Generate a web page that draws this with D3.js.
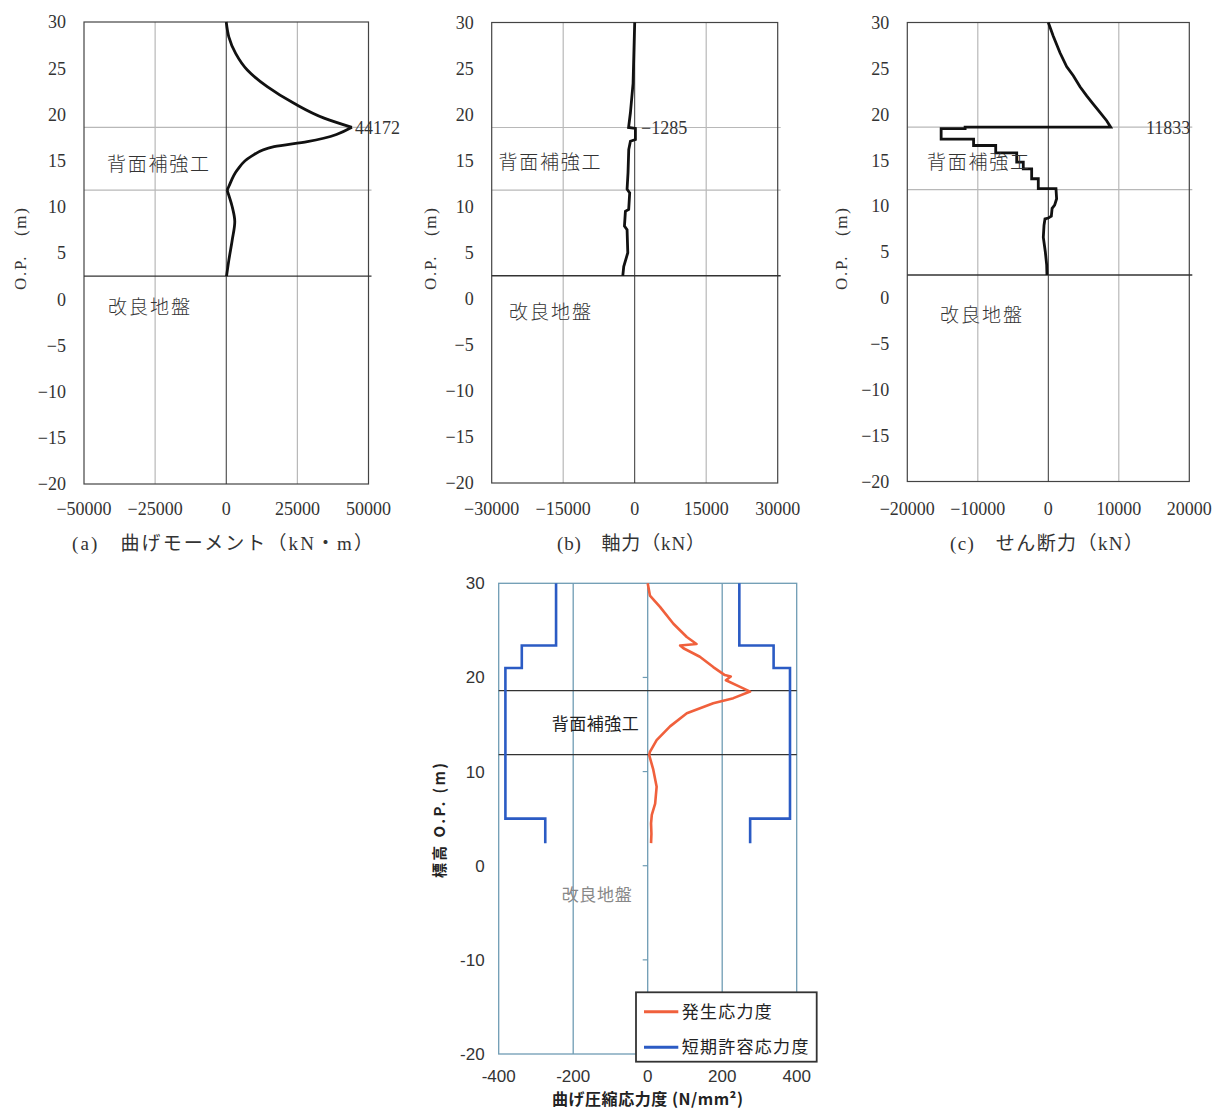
<!DOCTYPE html>
<html><head><meta charset="utf-8">
<script src="https://cdn.jsdelivr.net/npm/d3@7"></script>
<style>body{margin:0;background:#fff}svg{display:block}</style>
</head><body>
<svg id="c" width="1218" height="1111"></svg>
<script>
// ---------- data ----------
const elevTicks = [30,25,20,15,10,5,0,-5,-10,-15,-20];
const momentTicks = [-50000,-25000,0,25000,50000];
const axialTicks = [-30000,-15000,0,15000,30000];
const shearTicks = [-20000,-10000,0,10000,20000];
const stressTicks = [-400,-200,0,200,400];
const stressElevTicks = [30,20,10,0,-10,-20];

const reinfTop = 18.6, reinfBottom = 11.8, groundTop = 2.5;

const momentValue = [0,900,3300,7400,14400,23800,34400,44172,28500,16800,8500,3900,900,300,2100,3000,2100,900,100];
const momentElev  = [30,28.4,26.6,24.8,23.0,21.2,19.6,18.6,17.05,16.5,15.4,14.0,12.2,11.8,10.0,8.4,6.4,4.2,2.5];

const axialValue = [0,-340,-900,-1285,150,150,-900,-1250,-1400,-1600,-1050,-1260,-1950,-2150,-1600,-1450,-2300,-2500];
const axialElev  = [30,23.4,20.2,18.6,18.5,17.3,17.1,16.2,13.7,11.9,11.5,9.7,9.5,7.9,7.5,5.0,3.5,2.5];

const shearValue = [0,710,1660,2600,3550,4500,5450,6380,7330,8280,8850,
  -11800,-11800,-15200,-15200,-10600,-10600,-7460,-7460,-4480,-4480,-3550,-3550,-2360,-2360,-1420,-1420,
  1090,1180,900,540,430,0,-470,-610,-710,-420,-230,-190];
const shearElev  = [30,28.5,26.7,25.2,24.2,23.0,22.0,21.1,20.2,19.3,18.6,
  18.6,18.45,18.45,17.3,17.3,16.6,16.6,15.8,15.8,14.8,14.8,14.06,14.06,12.98,12.98,11.9,
  11.9,10.8,10.1,9.75,8.9,8.7,8.6,7.9,6.6,5.0,3.6,2.5];

const stressValue = [0,6,33,69,105,131,87,96,140,176,207,223,210,248,275,230,176,105,60,24,6,4,15,24,20,11,9,10,9];
const stressElev  = [30,28.7,27.5,25.7,24.3,23.55,23.4,23.1,22.2,21.1,20.25,20.1,19.7,19.0,18.5,17.8,17.25,16.2,14.8,13.35,12.1,11.75,10.2,8.4,6.6,5.4,4.5,3.4,2.4];

const allowNegValue = [-246,-246,-338,-338,-382,-382,-275,-275];
const allowPosValue = [246,246,338,338,382,382,275,275];
const allowElev     = [30,23.4,23.4,21.0,21.0,5.0,5.0,2.4];

const legendLabels = ["発生応力度","短期許容応力度"];

// ---------- drawing ----------
const svg = d3.select("#c");
const SERIF = "'Liberation Serif','Noto Sans CJK JP',serif";
const CJK = "'Noto Sans CJK JP',sans-serif";

function topPanel(o){
  const g = svg.append("g");
  const x = d3.scaleLinear().domain([o.ticks[0], o.ticks[o.ticks.length-1]]).range([o.left,o.right]);
  const y = d3.scaleLinear().domain([-20,30]).range([o.bottom,o.top]);
  g.selectAll(".vg").data(o.ticks.filter(t=>t!==0 && t!==o.ticks[0] && t!==o.ticks[o.ticks.length-1]))
    .join("line").attr("x1",d=>x(d)).attr("x2",d=>x(d)).attr("y1",o.top).attr("y2",o.bottom)
    .attr("stroke","#b8b8b8").attr("stroke-width",1.2);
  g.selectAll(".hg").data([reinfTop,reinfBottom]).join("line")
    .attr("x1",o.left).attr("x2",o.right+3).attr("y1",d=>y(d)).attr("y2",d=>y(d))
    .attr("stroke","#b8b8b8").attr("stroke-width",1.2);
  g.append("rect").attr("x",o.left).attr("y",o.top).attr("width",o.right-o.left).attr("height",o.bottom-o.top)
    .attr("fill","none").attr("stroke","#444").attr("stroke-width",1.2);
  g.append("line").attr("x1",x(0)).attr("x2",x(0)).attr("y1",o.top).attr("y2",o.bottom)
    .attr("stroke","#333").attr("stroke-width",1);
  g.append("line").attr("x1",o.left).attr("x2",o.right+3).attr("y1",y(groundTop)).attr("y2",y(groundTop))
    .attr("stroke","#333").attr("stroke-width",1.4);
  // curve (optionally smoothed piecewise between break elevations)
  const pts = o.vals.map((v,i)=>[v,o.elev[i]]);
  const line = d3.line().x(d=>x(d[0])).y(d=>y(d[1]));
  let segs = [pts];
  if (o.breaks){
    segs = []; let cur = [];
    pts.forEach(p=>{ cur.push(p); if (o.breaks.includes(p[1])){ segs.push(cur); cur=[p]; } });
    if (cur.length>1) segs.push(cur);
    line.curve(d3.curveMonotoneY);
  }
  segs.forEach(s=>{
    g.append("path").datum(s).attr("d",line)
      .attr("fill","none").attr("stroke","#111").attr("stroke-width",2.8)
      .attr("stroke-linejoin","miter").attr("stroke-linecap","butt");
  });
  g.selectAll(".yl").data(elevTicks).join("text")
    .attr("x",o.left-18).attr("y",d=>y(d)).attr("dy","0.35em").attr("text-anchor","end")
    .attr("font-family",SERIF).attr("font-size",18).attr("fill","#333")
    .text(d=>d<0?"\u2212"+Math.abs(d):d);
  g.selectAll(".xl").data(o.ticks).join("text")
    .attr("x",d=>x(d)).attr("y",515).attr("text-anchor","middle")
    .attr("font-family",SERIF).attr("font-size",18).attr("fill","#333")
    .text(d=>d<0?"\u2212"+Math.abs(d):d);
  g.append("text").attr("transform",`translate(${o.ytx},249) rotate(-90)`).attr("text-anchor","middle")
    .attr("dy","0.35em").attr("font-family",SERIF).attr("font-size",17).attr("fill","#333")
    .attr("textLength",82).attr("lengthAdjust","spacing").text("O.P.\u3000(m)");
  g.append("text").attr("x",o.titleX - o.titleW/2).attr("y",550)
    .attr("font-family",SERIF).attr("font-size",19).attr("fill","#333")
    .attr("textLength",o.titleW).attr("lengthAdjust","spacing").text(o.title);
  g.append("text").attr("x",o.reinfX).attr("y",o.reinfY).attr("dy","0.35em")
    .attr("font-family",CJK).attr("font-size",19).attr("font-weight",300).attr("fill","#333")
    .attr("textLength",102).attr("lengthAdjust","spacing").text("背面補強工");
  g.append("text").attr("x",o.soilX).attr("y",o.soilY).attr("dy","0.35em")
    .attr("font-family",CJK).attr("font-size",19).attr("font-weight",300).attr("fill","#333")
    .attr("textLength",82).attr("lengthAdjust","spacing").text("改良地盤");
  g.append("text").attr("x",o.annX).attr("y",y(reinfTop)).attr("dy","0.38em")
    .attr("font-family",SERIF).attr("font-size",18).attr("fill","#333").text(o.ann);
}

topPanel({ticks:momentTicks, left:84, right:368.5, top:22, bottom:484, vals:momentValue, elev:momentElev,
  breaks:[18.6,11.8],
  ytx:20, titleX:222.5, titleW:301, title:"(a)\u3000曲げモーメント（kN・m）",
  reinfX:107, reinfY:164, soilX:108, soilY:307, annX:355, ann:"44172"});
topPanel({ticks:axialTicks, left:491.7, right:777.7, top:22.5, bottom:483, vals:axialValue, elev:axialElev,
  ytx:430, titleX:631, titleW:148, title:"(b)\u3000軸力（kN）",
  reinfX:498.5, reinfY:162.5, soilX:509, soilY:312, annX:641, ann:"\u22121285"});
topPanel({ticks:shearTicks, left:907.3, right:1189.3, top:22.5, bottom:481.5, vals:shearValue, elev:shearElev,
  ytx:841, titleX:1046.5, titleW:193, title:"(c)\u3000せん断力（kN）",
  reinfX:927, reinfY:162, soilX:940, soilY:315, annX:1146, ann:"11833"});

// ---------- bottom chart ----------
(function(){
  const L=498.7, R=796.7, T=583.3, B=1054;
  const SANS="'Liberation Sans','Noto Sans CJK JP',sans-serif";
  const g = svg.append("g");
  const x = d3.scaleLinear().domain([-400,400]).range([L,R]);
  const y = d3.scaleLinear().domain([-20,30]).range([B,T]);
  const gridC = "#6f9cb4";
  g.selectAll(".vg").data(stressTicks.slice(1,-1)).join("line")
    .attr("x1",d=>x(d)).attr("x2",d=>x(d)).attr("y1",T).attr("y2",B)
    .attr("stroke",gridC).attr("stroke-width",1.3);
  g.append("rect").attr("x",L).attr("y",T).attr("width",R-L).attr("height",B-T)
    .attr("fill","none").attr("stroke",gridC).attr("stroke-width",1.3);
  g.selectAll(".mt").data(stressElevTicks.slice(1,-1)).join("line")
    .attr("x1",x(0)-5).attr("x2",x(0)).attr("y1",d=>y(d)).attr("y2",d=>y(d))
    .attr("stroke",gridC).attr("stroke-width",1.2);
  g.selectAll(".bl").data([reinfTop,reinfBottom]).join("line")
    .attr("x1",L).attr("x2",R).attr("y1",d=>y(d)).attr("y2",d=>y(d))
    .attr("stroke","#333").attr("stroke-width",1.4);
  const line = d3.line().x(d=>x(d[0])).y(d=>y(d[1]));
  const blue = "#2b5bc4", red = "#f0603c";
  [allowNegValue, allowPosValue].forEach(vals=>{
    g.append("path").datum(vals.map((v,i)=>[v,allowElev[i]])).attr("d",line)
      .attr("fill","none").attr("stroke",blue).attr("stroke-width",2.6);
  });
  g.append("path").datum(stressValue.map((v,i)=>[v,stressElev[i]])).attr("d",line)
    .attr("fill","none").attr("stroke",red).attr("stroke-width",2.6).attr("stroke-linejoin","round");
  g.selectAll(".yl").data(stressElevTicks).join("text")
    .attr("x",L-14).attr("y",d=>y(d)).attr("dy","0.35em").attr("text-anchor","end")
    .attr("font-family",SANS).attr("font-size",17).attr("fill","#333")
    .text(d=>d<0?"-"+Math.abs(d):d);
  g.selectAll(".xl").data(stressTicks).join("text")
    .attr("x",d=>x(d)).attr("y",1076).attr("dy","0.35em").attr("text-anchor","middle")
    .attr("font-family",SANS).attr("font-size",17).attr("fill","#333")
    .text(d=>d<0?"-"+Math.abs(d):d);
  g.append("text").attr("x",647.5).attr("y",1099).attr("dy","0.35em").attr("text-anchor","middle")
    .attr("font-family",CJK).attr("font-size",16).attr("font-weight","bold").attr("fill","#222")
    .attr("textLength",191).attr("lengthAdjust","spacing").text("曲げ圧縮応力度 (N/mm²)");
  g.append("text").attr("transform","translate(440,820.5) rotate(-90)").attr("text-anchor","middle")
    .attr("dy","0.35em").attr("font-family",CJK).attr("font-size",15).attr("font-weight","bold").attr("fill","#222")
    .attr("textLength",115).attr("lengthAdjust","spacing").text("標高 O.P. (m)");
  g.append("text").attr("x",551.7).attr("y",724).attr("dy","0.35em")
    .attr("font-family",CJK).attr("font-size",17).attr("fill","#222")
    .attr("textLength",87).attr("lengthAdjust","spacing").text("背面補強工");
  g.append("text").attr("x",561.7).attr("y",895).attr("dy","0.35em")
    .attr("font-family",CJK).attr("font-size",17).attr("fill","#888")
    .attr("textLength",70).attr("lengthAdjust","spacing").text("改良地盤");
  const lg = g.append("g");
  lg.append("rect").attr("x",636).attr("y",992.3).attr("width",180.7).attr("height",69.4)
    .attr("fill","#fff").attr("stroke","#333").attr("stroke-width",1.8);
  const colors=[red,blue], ly=[1011.7,1047.3], lw=[90,126.7];
  legendLabels.forEach((t,i)=>{
    lg.append("line").attr("x1",644).attr("x2",678.3).attr("y1",ly[i]).attr("y2",ly[i])
      .attr("stroke",colors[i]).attr("stroke-width",3);
    lg.append("text").attr("x",681.7).attr("y",ly[i]).attr("dy","0.35em")
      .attr("font-family",CJK).attr("font-size",17).attr("fill","#222")
      .attr("textLength",lw[i]).attr("lengthAdjust","spacing").text(t);
  });
})();
</script>
</body></html>
